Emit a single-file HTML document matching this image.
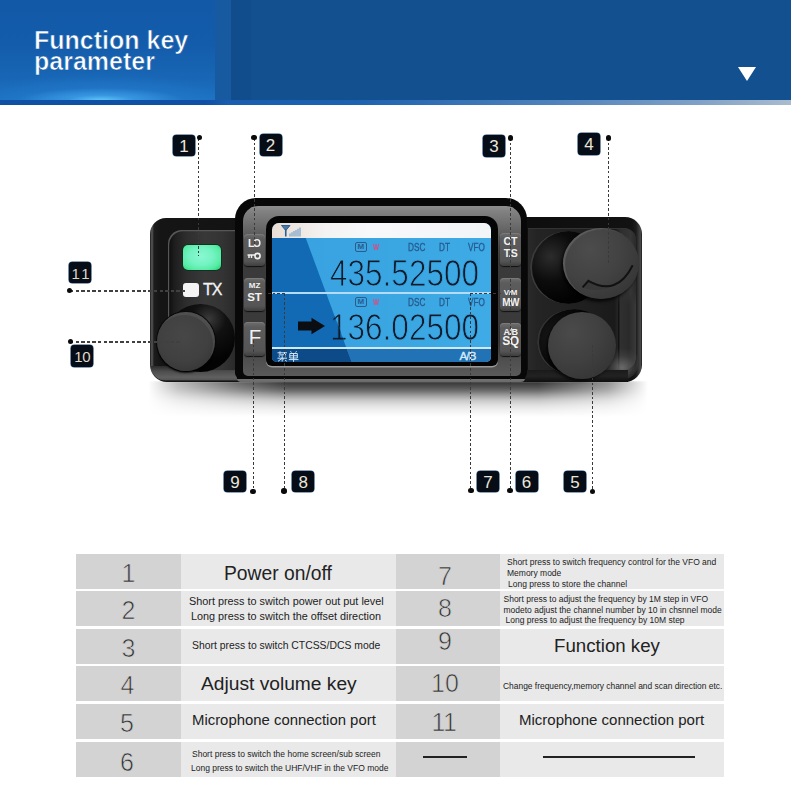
<!DOCTYPE html>
<html><head><meta charset="utf-8">
<style>
*{margin:0;padding:0;box-sizing:border-box}
html,body{width:791px;height:787px;overflow:hidden;background:#fff;font-family:"Liberation Sans",sans-serif}
.a{position:absolute}
#hdr{left:0;top:0;width:791px;height:104px;background:#13508f}
#hdrL{left:0;top:0;width:215px;height:100px;background:linear-gradient(180deg,#125aa8 0%,#135cab 45%,#1867b6 80%,#1c72c0 100%)}
#glow{left:0;top:70px;width:215px;height:30px;background:radial-gradient(ellipse 38% 40% at 47% 100%,rgba(95,200,250,.95) 0%,rgba(70,170,240,.55) 40%,rgba(40,130,220,0) 100%),radial-gradient(ellipse 60% 90% at 47% 100%,rgba(50,140,225,.5),rgba(40,120,210,0) 100%)}
#strip1{left:215px;top:0;width:16px;height:100px;background:#175aa0}
#strip2{left:231px;top:0;width:20px;height:100px;background:#114c8c}
#hb{left:0;top:100px;width:791px;height:4.5px;background:linear-gradient(90deg,#0f50a4 0%,#0f50a6 26%,#1a5db0 29%,#1d62b0 45%,#4f82bc 70%,#7fa0c6 88%,#a9bccf 100%)}
#title{left:34px;top:29.5px;color:#fff;font-weight:bold;font-size:25px;line-height:21px;-webkit-text-stroke:.6px #145daa}
#tri{left:738px;top:67px;width:0;height:0;border-left:9.5px solid transparent;border-right:9.5px solid transparent;border-top:14px solid #fff}
/* table */
.c{position:absolute;height:35px}
.d{background:#d4d3d4}
.l{background:#e9e9e9}
.n{position:absolute;width:105px;text-align:center;font-size:25px;color:#333;line-height:36px;-webkit-text-stroke:.7px #d4d3d4}
.t{position:absolute;color:#222;white-space:nowrap}

.btn{width:21px;border-radius:4px;background:linear-gradient(180deg,#6e6e6e 0%,#5c5c5c 15%,#555 85%,#3e3e3e 100%);box-shadow:0 1px 1px #111,inset 0 1px 0 #7a7a7a}
.bt{width:21px;text-align:center;color:#f2f2f2;font-weight:bold;line-height:1}
.sl{color:#285a8c;font-size:10px;line-height:1;transform-origin:0 0;transform:scaleX(.82);-webkit-text-stroke:.3px #285a8c}
.mb{width:12.5px;height:10.5px;border:1.4px solid #2c5b8c;border-radius:2px;color:#2c5b8c;font-size:8px;font-weight:bold;text-align:center;line-height:8px}
.ww{color:#e8457a;font-size:8.5px;font-weight:bold;line-height:1;transform-origin:0 0;transform:scaleX(.75)}
.dg{color:#0d1a2a;font-size:37px;line-height:1;transform-origin:0 0;transform:scaleX(.852);-webkit-text-stroke:1px #3aa5e2;letter-spacing:0}

.vl{width:1.2px;background:repeating-linear-gradient(180deg,#3a3a3a 0,#3a3a3a 2.6px,transparent 2.6px,transparent 4.7px)}
.hl{height:1.2px;background:repeating-linear-gradient(90deg,#3a3a3a 0,#3a3a3a 2.6px,transparent 2.6px,transparent 4.7px)}
.hl2{height:1.5px;background:repeating-linear-gradient(90deg,#404040 0,#404040 3.5px,transparent 3.5px,transparent 5.6px)}
.dot{width:5.4px;height:5.4px;margin:-2.7px 0 0 -2.7px;border-radius:50%;background:#0a0a0a}
.lb{width:22px;height:21.5px;border-radius:3.5px;background:#060d16;box-shadow:0 0 0 .6px #1f4770;color:#ece6da;font-size:17px;text-align:center;line-height:23px}
</style></head><body>
<div id="hdr" class="a"></div>
<div id="hdrL" class="a"></div>
<div id="glow" class="a"></div>
<div id="strip1" class="a"></div>
<div id="strip2" class="a"></div>
<div id="hb" class="a"></div>
<div id="title" class="a m">Function key<br>parameter</div>
<div id="tri" class="a"></div>

<!-- table rows -->
<div class="c d" style="left:76px;top:554px;width:105px"></div><div class="c l" style="left:181px;top:554px;width:215px"></div><div class="c d" style="left:396px;top:554px;width:104px"></div><div class="c l" style="left:500px;top:554px;width:224px"></div>
<div class="c d" style="left:76px;top:591px;width:105px"></div><div class="c l" style="left:181px;top:591px;width:215px"></div><div class="c d" style="left:396px;top:591px;width:104px"></div><div class="c l" style="left:500px;top:591px;width:224px"></div>
<div class="c d" style="left:76px;top:629px;width:105px"></div><div class="c l" style="left:181px;top:629px;width:215px"></div><div class="c d" style="left:396px;top:629px;width:104px"></div><div class="c l" style="left:500px;top:629px;width:224px"></div>
<div class="c d" style="left:76px;top:666px;width:105px"></div><div class="c l" style="left:181px;top:666px;width:215px"></div><div class="c d" style="left:396px;top:666px;width:104px"></div><div class="c l" style="left:500px;top:666px;width:224px"></div>
<div class="c d" style="left:76px;top:704px;width:105px"></div><div class="c l" style="left:181px;top:704px;width:215px"></div><div class="c d" style="left:396px;top:704px;width:104px"></div><div class="c l" style="left:500px;top:704px;width:224px"></div>
<div class="c d" style="left:76px;top:742px;width:105px"></div><div class="c l" style="left:181px;top:742px;width:215px"></div><div class="c d" style="left:396px;top:742px;width:104px"></div><div class="c l" style="left:500px;top:742px;width:224px"></div>

<div class="n m" style="left:76px;top:555px">1</div>
<div class="n m" style="left:76px;top:592px">2</div>
<div class="n m" style="left:76px;top:629.5px">3</div>
<div class="n m" style="left:75px;top:667px">4</div>
<div class="n m" style="left:74.5px;top:705px">5</div>
<div class="n m" style="left:74.5px;top:743.5px">6</div>
<div class="n m" style="left:392.5px;top:557.5px">7</div>
<div class="n m" style="left:392.5px;top:589.5px">8</div>
<div class="n m" style="left:392.5px;top:623px">9</div>
<div class="n m" style="left:392.5px;top:665px">10</div>
<div class="n m" style="left:391.5px;top:704px;letter-spacing:-.5px">11</div>
<div class="a" style="left:423px;top:756px;width:44px;height:2px;background:#222"></div>
<div class="a" style="left:543px;top:756px;width:152px;height:2px;background:#222"></div>

<div class="t m" style="left:224px;top:563px;font-size:19.3px">Power on/off</div>
<div class="t m" style="left:189px;top:595px;font-size:10.85px">Short press to switch power out put level</div>
<div class="t m" style="left:191px;top:610px;font-size:10.83px">Long press to switch the offset direction</div>
<div class="t m" style="left:192px;top:640px;font-size:10.4px">Short press to switch CTCSS/DCS mode</div>
<div class="t m" style="left:201px;top:673px;font-size:19.2px">Adjust volume key</div>
<div class="t m" style="left:192px;top:712px;font-size:14.9px">Microphone connection port</div>
<div class="t m" style="left:192px;top:749px;font-size:8.5px">Short press to switch the home screen/sub screen</div>
<div class="t m" style="left:191px;top:763px;font-size:8.5px">Long press to switch the UHF/VHF in the VFO mode</div>

<div class="t m" style="left:507px;top:557px;font-size:8.5px">Short press to switch frequency control for the VFO and</div>
<div class="t m" style="left:507px;top:568px;font-size:8.5px">Memory mode</div>
<div class="t m" style="left:508px;top:579px;font-size:8.5px">Long press to store the channel</div>
<div class="t m" style="left:503.5px;top:593.5px;font-size:8.5px">Short press to adjust the frequency by 1M step in VFO</div>
<div class="t m" style="left:503.5px;top:604.5px;font-size:8.5px">modeto adjust the channel number by 10 in chsnnel mode</div>
<div class="t m" style="left:505.5px;top:615px;font-size:8.5px">Long press to adjust the frequency by 10M step</div>
<div class="t m" style="left:554px;top:634.5px;font-size:18.7px">Function key</div>
<div class="t m" style="left:503px;top:681px;font-size:8.44px">Change frequency,memory channel and scan direction etc.</div>
<div class="t m" style="left:519px;top:711px;font-size:15px">Microphone connection port</div>


<!-- shadow -->
<div class="a" style="left:148px;top:381px;width:500px;height:36px;background:linear-gradient(180deg,rgba(0,0,0,.8) 0px,rgba(0,0,0,.73) 4px,rgba(0,0,0,.6) 9px,rgba(0,0,0,.4) 14px,rgba(0,0,0,.22) 19px,rgba(0,0,0,.12) 24px,rgba(0,0,0,.06) 29px,rgba(0,0,0,0) 36px);-webkit-mask:linear-gradient(90deg,rgba(0,0,0,0) 0,rgba(0,0,0,.35) 6%,rgba(0,0,0,.75) 18%,#000 28%,#000 78%,rgba(0,0,0,.55) 92%,rgba(0,0,0,0) 100%);filter:blur(.8px)"></div>
<!-- left body -->
<div class="a" style="left:150px;top:218px;width:92px;height:164px;border-radius:16px 0 0 17px;background:linear-gradient(90deg,#0a0a0a 0px,#4e4e4e 1px,#484848 2.5px,#1c1c1c 4px,#151515 10px,#131313 100%)"></div>
<div class="a" style="left:151px;top:366px;width:91px;height:15px;border-radius:0 0 0 15px;background:linear-gradient(180deg,#2a2a2a 0%,#4c4c4c 35%,#606060 75%,#555 92%,#111 100%)"></div>
<div class="a" style="left:167.5px;top:229.5px;width:67.5px;height:140px;border-radius:14px 0 0 10px;background:linear-gradient(90deg,#0c0c0c 0%,#1e1e1e 10%,#2e2e2e 28%,#383838 55%,#343434 80%,#2a2a2a 100%);box-shadow:inset 1.2px 1.2px 0 #575757"></div>
<!-- green button -->
<div class="a" style="left:183px;top:245px;width:38px;height:25px;border-radius:5px;background:radial-gradient(ellipse 65% 70% at 48% 45%,#8af8d2 0%,#74f3c2 50%,#55eca4 82%,#2edc7c 100%);box-shadow:0 0 0 .8px #0c2e1c"></div>
<!-- TX led -->
<div class="a" style="left:183px;top:283px;width:15.5px;height:13.5px;border-radius:3px;background:#f4f4f4"></div>
<div class="a" style="left:203px;top:281px;color:#f4f4f4;font-size:16px;letter-spacing:-1px;-webkit-text-stroke:.3px #f4f4f4">TX</div>
<!-- left knob -->
<div class="a" style="left:166px;top:304px;width:69px;height:68px;border-radius:50%;background:radial-gradient(circle at 62% 22%,#3a3a3a 0,#111 25%,#030303 60%)"></div>
<div class="a" style="left:157px;top:311.5px;width:58px;height:59.5px;border-radius:50%;background:radial-gradient(circle at 45% 40%,#474747 0%,#404040 55%,#333 90%,#2a2a2a 100%);box-shadow:0 2px 2px rgba(0,0,0,.8),inset -2px 3px 1px rgba(255,255,255,.08),0 0 0 1px #0a0a0a"></div>

<!-- right body -->
<div class="a" style="left:518px;top:216.5px;width:124px;height:165.5px;border-radius:0 17px 17px 0;background:linear-gradient(270deg,#080808 0px,#4a4a4a 1px,#3a3a3a 3px,#1c1c1c 6px,#121212 10px,#0e0e0e 100%)"></div>
<div class="a" style="left:527.5px;top:228px;width:108px;height:142px;border-radius:0 12px 14px 0;background:linear-gradient(90deg,#2a2a2a 0%,#242424 8%,#1e1e1e 60%,#1a1a1a 80%,#2e2e2e 86%,#363636 95%,#2a2a2a 100%);box-shadow:inset 0 1px 0 #333"></div>
<div class="a" style="left:618px;top:290px;width:18px;height:80px;border-radius:0 0 12px 0;background:linear-gradient(90deg,#121212 0,#121212 1px,#303030 2px,#2a2a2a 60%,#3a3a3a 100%);-webkit-mask:linear-gradient(180deg,transparent 0,#000 16px)"></div>
<div class="a" style="left:596px;top:336px;width:42px;height:44px;border-radius:0 0 16px 0;background:radial-gradient(ellipse 55% 45% at 62% 72%,rgba(120,120,120,.8),rgba(90,90,90,.3) 60%,rgba(80,80,80,0) 100%)"></div>
<div class="a" style="left:518px;top:370px;width:110px;height:12px;background:linear-gradient(180deg,#1a1a1a,#222 50%,#0e0e0e)"></div>
<!-- right knobs -->
<div class="a" style="left:530px;top:231px;width:74px;height:73px;border-radius:50%;background:radial-gradient(circle at 28% 35%,#2c2c2c 0,#0c0c0c 35%,#020202 65%);box-shadow:inset 2px 0 0 #3a3a3a"></div>
<div class="a" style="left:562.5px;top:228px;width:76px;height:71px;border-radius:50%;background:radial-gradient(ellipse at 35% 30%,#4c4c4c 0%,#424242 45%,#363636 80%,#2a2a2a 100%);box-shadow:-2px 3px 3px rgba(0,0,0,.7),inset 2px 1px 1px rgba(255,255,255,.13)"></div>
<svg class="a" style="left:562.5px;top:227.5px" width="76" height="72" viewBox="0 0 76 72"><path d="M19.6 59.4 L25.4 52.8 Q54 69 69.7 37.2 A38 36 0 0 1 19.6 59.4 Z" fill="#383838"/><path d="M19.6 59.4 L25.4 52.8 Q54 69 69.7 37.2" fill="none" stroke="#121212" stroke-width="2"/></svg>
<div class="a" style="left:537px;top:309px;width:72px;height:66px;border-radius:50%;background:radial-gradient(circle at 30% 45%,#1e1e1e 0,#0a0a0a 40%,#020202 70%);box-shadow:inset 2px 0 0 #333"></div>
<div class="a" style="left:547.5px;top:311.5px;width:68.5px;height:67.5px;border-radius:50%;background:radial-gradient(ellipse at 35% 30%,#4a4a4a 0%,#404040 45%,#353535 80%,#2a2a2a 100%);box-shadow:-2px 2px 3px rgba(0,0,0,.7)"></div>

<!-- bezel -->
<div class="a" style="left:237px;top:376px;width:288px;height:6px;border-radius:0 0 4px 4px;background:linear-gradient(180deg,#080808 0,#080808 45%,#727272 55%,#6a6a6a 100%)"></div>
<div class="a" style="left:235px;top:198px;width:292px;height:181px;border-radius:21px 21px 6px 6px;background:#080808"></div>
<div class="a" style="left:243px;top:206px;width:278px;height:170px;border-radius:15px 15px 5px 5px;background:linear-gradient(180deg,#8e8e8e 0%,#828282 3%,#777 7%,#6a6a6a 12%,#585858 18%,#444 26%,#3a3a3a 34%,#3a3a3a 80%,#4e4e4e 90%,#5a5a5a 100%)"></div>
<div class="a" style="left:266px;top:216px;width:232px;height:150px;border-radius:13px 13px 6px 6px;background:#050505;box-shadow:0 1.5px 0 #9a9a9a"></div>
<!-- screen -->
<div class="a" style="left:272px;top:223px;width:219px;height:139px;border-radius:7px 7px 5px 5px;overflow:hidden;background:#3ca0e6">
  <div class="a" style="left:0;top:0;width:219px;height:15px;background:linear-gradient(90deg,#e8ddd4 0%,#efe8e2 12%,#f4f3f3 25%,#f6f8fa 45%,#f2f5f8 100%)"></div>
  <div class="a" style="left:0;top:15px;width:219px;height:124px;background:linear-gradient(90deg,#38a2e0 0%,#3aa6e2 60%,#3eaae6 100%)"></div>
  <svg class="a" style="left:0;top:15px" width="219" height="124" viewBox="0 0 219 124"><polygon points="0,0 33.7,0 79.6,124 0,124" fill="#116ab3"/><polygon points="0,110 74.4,110 79.6,124 0,124" fill="#0c4a88"/><polygon points="74.4,110 219,110 219,124 79.6,124" fill="#2273b5"/></svg>
  <div class="a" style="left:0;top:69px;width:219px;height:2px;background:#b4dcf6"></div>
  <div class="a" style="left:0;top:124px;width:219px;height:2px;background:#d0e9f8"></div>
</div>
<!-- button columns background -->
<!-- buttons -->
<div class="btn a" style="left:244px;top:234px;height:32px"></div>
<div class="btn a" style="left:244px;top:278px;height:33px"></div>
<div class="btn a" style="left:244px;top:322px;height:34px"></div>
<div class="btn a" style="left:500px;top:233px;height:33px"></div>
<div class="btn a" style="left:500px;top:278px;height:33px"></div>
<div class="btn a" style="left:500px;top:323px;height:33px"></div>
<div class="bt a" style="left:244px;top:237.5px;font-size:10.5px;letter-spacing:-.5px">L<span style="display:inline-block;transform:scaleX(-1)">C</span></div>
<svg class="a" style="left:247px;top:252px" width="15" height="8" viewBox="0 0 15 8"><circle cx="10.5" cy="4" r="2.6" fill="none" stroke="#f0f0f0" stroke-width="1.6"/><path d="M0.5 3h8M2 3v3M4.5 3v3" stroke="#f0f0f0" stroke-width="1.5" fill="none"/></svg>
<div class="bt a" style="left:244px;top:282px;font-size:8px">MZ</div>
<div class="bt a" style="left:244px;top:292px;font-size:11.5px">ST</div>
<div class="bt a" style="left:244.5px;top:327px;font-size:20.5px;font-weight:normal">F</div>
<div class="bt a" style="left:500px;top:236px;font-size:10.5px">CT</div>
<div class="bt a" style="left:500px;top:248px;font-size:10.5px;letter-spacing:-.5px">T.S</div>
<div class="bt a" style="left:500px;top:288.5px;font-size:8px;letter-spacing:-.3px">V/M</div>
<div class="bt a" style="left:500px;top:297.5px;font-size:10px;letter-spacing:-.6px">MW</div>
<div class="bt a" style="left:500px;top:328px;font-size:9px;letter-spacing:-.5px">A/B</div>
<div class="bt a" style="left:500px;top:335px;font-size:12px;letter-spacing:-.5px">SQ</div>

<!-- screen contents -->
<svg class="a" style="left:281px;top:225px" width="20" height="12" viewBox="0 0 20 12"><path d="M0.5 0.5h8.5l-4.25 5z" fill="#4a7aa8" stroke="#2e5f90" stroke-width="1"/><path d="M4.75 4v7.5" stroke="#2e5f90" stroke-width="1.6"/><path d="M9 11.5v-3M11 11.5v-4.2M13 11.5v-5.4M15 11.5v-6.6M17 11.5v-7.8M19 11.5v-9" stroke="#7fa6cc" stroke-width="1.3"/></svg>
<div class="a mb" style="left:354.5px;top:241.5px">M</div>
<div class="a ww" style="left:372.5px;top:242.5px">W</div>
<div class="sl a" style="left:408px;top:242.5px">DSC</div>
<div class="sl a" style="left:439px;top:242.5px">DT</div>
<div class="sl a" style="left:468px;top:242.5px">VFO</div>
<div class="a mb" style="left:354.5px;top:296.5px">M</div>
<div class="a ww" style="left:372.5px;top:297.5px">W</div>
<div class="sl a" style="left:408px;top:297.5px">DSC</div>
<div class="sl a" style="left:439px;top:297.5px">DT</div>
<div class="sl a" style="left:468px;top:297.5px">VFO</div>
<div class="dg a m" style="left:329.5px;top:255px">435.52500</div>
<div class="dg a" style="left:329.5px;top:308.5px;clip-path:polygon(0.51px -5px,200px -5px,200px 50px,24.4px 50px)">136.02500</div><div class="dg a" style="left:329.5px;top:308.5px;-webkit-text-stroke-color:#116ab3;clip-path:polygon(-5px -5px,0.51px -5px,24.4px 50px,-5px 50px)">136.02500</div>
<svg class="a" style="left:297px;top:317px" width="29" height="18" viewBox="0 0 29 18"><path d="M1 4.5h13.5V0.8L28 9 14.5 17.2V13.5H1z" fill="#0a0d12"/></svg>
<svg class="a" style="left:276.5px;top:350.5px" width="23" height="11" viewBox="0 0 23 11"><g fill="none" stroke="#cfe6f8" stroke-width="1"><path d="M0.5 1.8H10M3 0.3V3.3M7.5 0.3V3.3M1.8 4L9 3.6M1.8 4.8L2.6 5.8M5.2 4.4V5.8M8.6 4.6L7.8 5.8M0.5 7.2H10M5.2 5.8V10.5M5 7.3L1 10.3M5.5 7.3L9.8 10.3"/><path d="M13.5 0.2L14.4 1.6M19.5 0.2L18.6 1.6M12.8 2.5H20.3V7H12.8ZM12.8 4.75H20.3M16.55 2.5V10.8M11.8 8.6H21.5"/></g></svg>
<div class="a" style="left:459.5px;top:349.5px;color:#d8ecfa;font-size:11.5px;letter-spacing:-.8px;-webkit-text-stroke:.35px #d8ecfa">A/B</div>


<!-- callout lines -->
<div class="vl a" style="left:198px;top:138px;height:118px"></div>
<div class="vl a" style="left:253.5px;top:138px;height:108px"></div>
<div class="vl a" style="left:509.5px;top:138px;height:353px"></div>
<div class="vl a" style="left:607.5px;top:138px;height:125px"></div>
<div class="vl a" style="left:252.5px;top:340px;height:151px"></div>
<div class="vl a" style="left:284px;top:293px;height:198px"></div>
<div class="hl a" style="left:268px;top:292.5px;width:17px"></div>
<div class="vl a" style="left:470px;top:293px;height:197px"></div>
<div class="hl a" style="left:470px;top:292.5px;width:33px"></div>
<div class="vl a" style="left:591.5px;top:345px;height:146px"></div>
<div class="hl2 a" style="left:70px;top:290px;width:115px"></div>
<div class="hl2 a" style="left:70px;top:341px;width:112px"></div>
<!-- dots -->
<div class="dot a" style="left:199.2px;top:137.5px"></div>
<div class="dot a" style="left:254px;top:137.5px"></div>
<div class="dot a" style="left:510.2px;top:137.8px"></div>
<div class="dot a" style="left:608.4px;top:137.8px"></div>
<div class="dot a" style="left:69.6px;top:290.4px"></div>
<div class="dot a" style="left:70.4px;top:341.3px"></div>
<div class="dot a" style="left:252.8px;top:491.5px"></div>
<div class="dot a" style="left:283.8px;top:491px"></div>
<div class="dot a" style="left:470.8px;top:490.4px"></div>
<div class="dot a" style="left:509.9px;top:490.4px"></div>
<div class="dot a" style="left:592.2px;top:491.6px"></div>
<!-- label boxes -->
<div class="lb a" style="left:173px;top:134.5px">1</div>
<div class="lb a" style="left:259.5px;top:134px">2</div>
<div class="lb a" style="left:483px;top:135px">3</div>
<div class="lb a" style="left:578px;top:133px">4</div>
<div class="lb a" style="left:564px;top:470.5px">5</div>
<div class="lb a" style="left:515.6px;top:470.5px">6</div>
<div class="lb a" style="left:477px;top:470.5px">7</div>
<div class="lb a" style="left:292.2px;top:470.5px">8</div>
<div class="lb a" style="left:224px;top:470.5px">9</div>
<div class="lb a" style="left:71.2px;top:345px;color:#e0d8c8;font-size:15px;letter-spacing:-.5px">10</div>
<div class="lb a" style="left:69px;top:261.6px;color:#e0d8c8;font-size:15px;letter-spacing:2.5px;text-indent:2.5px">11</div>

<!--RADIO4-->
</body></html>
